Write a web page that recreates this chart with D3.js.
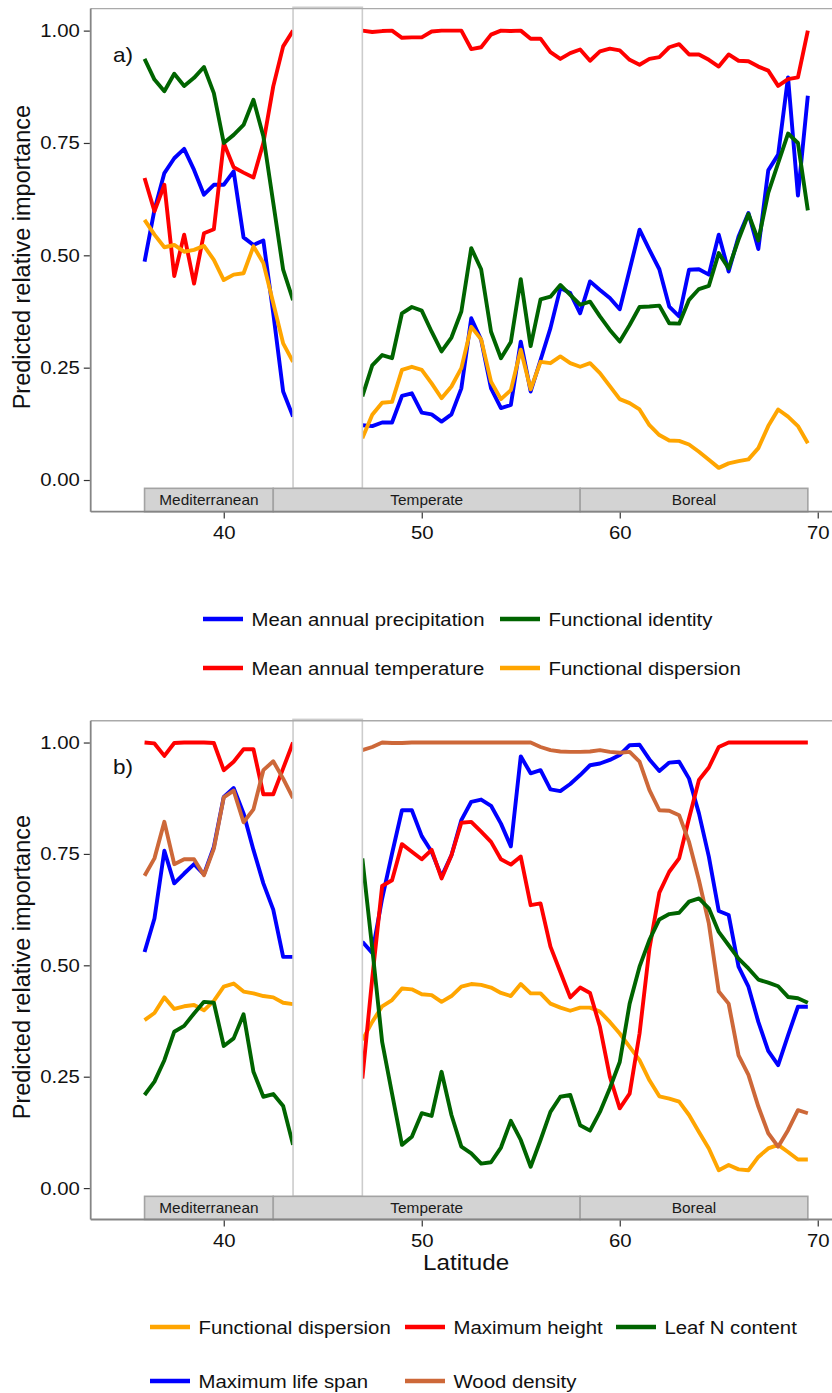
<!DOCTYPE html>
<html>
<head>
<meta charset="utf-8">
<script src="https://cdn.jsdelivr.net/npm/d3@7"></script>
<style>
  html, body { margin: 0; padding: 0; background: #fff; }
  svg { display: block; font-family: "Liberation Sans", Arial, Helvetica, sans-serif; }
</style>
</head>
<body>
<svg id="chart" width="832" height="1393"></svg>
<script>
// Latitude of each prediction (degrees N); null values fall inside the masked band
const latitude = [
  36, 36.5, 37, 37.5, 38, 38.5, 39, 39.5, 40, 40.5, 41, 41.5, 42, 42.5, 43, 43.5,
  44, 44.5, 45, 45.5, 46, 46.5,
  47, 47.5, 48, 48.5, 49, 49.5, 50, 50.5, 51, 51.5, 52, 52.5, 53, 53.5, 54, 54.5,
  55, 55.5, 56, 56.5, 57, 57.5,
  58, 58.5, 59, 59.5, 60, 60.5, 61, 61.5, 62, 62.5, 63, 63.5, 64, 64.5, 65, 65.5,
  66, 66.5, 67, 67.5, 68, 68.5, 69, 69.5
];

// (a) climate vs. functional structure
const meanAnnualPrecipitation = [
  0.486, 0.601, 0.683, 0.716, 0.737, 0.690, 0.635, 0.657, 0.657, 0.687, 0.540, 0.523, 0.533, 0.371, 0.197, 0.141,
  null, null, null, null, null, null,
  0.122, 0.120, 0.128, 0.128, 0.187, 0.193, 0.150, 0.146, 0.130, 0.146, 0.204, 0.360, 0.312, 0.204, 0.160, 0.167,
  0.308, 0.197, 0.267, 0.338, 0.427, 0.416,
  0.371, 0.442, 0.423, 0.405, 0.380, 0.468, 0.557, 0.512, 0.469, 0.386, 0.364, 0.468, 0.469, 0.457, 0.546, 0.464,
  0.542, 0.594, 0.514, 0.689, 0.724, 0.896, 0.633, 0.855
];
const meanAnnualTemperature = [
  0.672, 0.598, 0.657, 0.454, 0.546, 0.437, 0.549, 0.558, 0.750, 0.696, 0.684, 0.673, 0.750, 0.876, 0.965, 1.000,
  null, null, null, null, null, null,
  1.000, 0.997, 0.999, 1.000, 0.984, 0.985, 0.985, 0.998, 1.000, 1.000, 1.000, 0.959, 0.963, 0.991, 1.000, 0.999,
  1.000, 0.982, 0.982, 0.952, 0.937, 0.950,
  0.958, 0.933, 0.954, 0.960, 0.956, 0.935, 0.924, 0.937, 0.941, 0.963, 0.970, 0.947, 0.947, 0.935, 0.920, 0.947,
  0.933, 0.932, 0.920, 0.911, 0.877, 0.892, 0.896, 1.000
];
const functionalIdentity = [
  0.937, 0.891, 0.865, 0.904, 0.877, 0.895, 0.919, 0.861, 0.750, 0.768, 0.790, 0.846, 0.765, 0.617, 0.468, 0.400,
  null, null, null, null, null, null,
  0.186, 0.255, 0.278, 0.271, 0.371, 0.385, 0.377, 0.330, 0.286, 0.317, 0.375, 0.516, 0.469, 0.330, 0.271, 0.307,
  0.447, 0.298, 0.402, 0.408, 0.434, 0.412,
  0.390, 0.397, 0.364, 0.334, 0.308, 0.345, 0.385, 0.386, 0.388, 0.349, 0.348, 0.401, 0.425, 0.432, 0.505, 0.471,
  0.535, 0.592, 0.533, 0.639, 0.705, 0.771, 0.750, 0.600
];
const functionalDispersionA = [
  0.579, 0.546, 0.518, 0.523, 0.508, 0.512, 0.521, 0.490, 0.445, 0.457, 0.460, 0.520, 0.483, 0.394, 0.304, 0.263,
  null, null, null, null, null, null,
  0.093, 0.145, 0.172, 0.174, 0.245, 0.252, 0.245, 0.215, 0.182, 0.208, 0.249, 0.341, 0.313, 0.219, 0.180, 0.200,
  0.290, 0.202, 0.263, 0.260, 0.275, 0.260,
  0.252, 0.260, 0.238, 0.209, 0.180, 0.171, 0.157, 0.122, 0.100, 0.088, 0.087, 0.079, 0.063, 0.045, 0.027, 0.037,
  0.042, 0.046, 0.071, 0.120, 0.157, 0.141, 0.120, 0.082
];

// (b) individual traits
const functionalDispersionB = [
  0.377, 0.393, 0.428, 0.402, 0.408, 0.411, 0.399, 0.420, 0.452, 0.459, 0.441, 0.437, 0.431, 0.428, 0.416, 0.413,
  null, null, null, null, null, null,
  0.332, 0.373, 0.408, 0.422, 0.448, 0.446, 0.435, 0.433, 0.418, 0.431, 0.452, 0.458, 0.456, 0.450, 0.438, 0.431,
  0.458, 0.437, 0.437, 0.414, 0.405, 0.398,
  0.405, 0.405, 0.396, 0.373, 0.347, 0.317, 0.287, 0.242, 0.206, 0.201, 0.194, 0.164, 0.126, 0.089, 0.040, 0.052,
  0.042, 0.040, 0.070, 0.089, 0.097, 0.081, 0.064, 0.064
];
const maximumLifeSpan = [
  0.530, 0.605, 0.757, 0.684, 0.706, 0.727, 0.704, 0.766, 0.878, 0.898, 0.841, 0.759, 0.684, 0.625, 0.519, 0.519,
  null, null, null, null, null, null,
  0.553, 0.528, 0.650, 0.751, 0.848, 0.848, 0.790, 0.755, 0.699, 0.747, 0.826, 0.867, 0.872, 0.858, 0.818, 0.767,
  0.969, 0.931, 0.938, 0.895, 0.891, 0.907,
  0.927, 0.949, 0.953, 0.961, 0.972, 0.994, 0.995, 0.962, 0.936, 0.955, 0.957, 0.919, 0.841, 0.744, 0.622, 0.613,
  0.497, 0.452, 0.373, 0.308, 0.276, 0.343, 0.407, 0.407
];
const maximumHeight = [
  1.000, 0.998, 0.970, 0.999, 1.000, 1.000, 1.000, 0.999, 0.938, 0.957, 0.985, 0.985, 0.884, 0.884, 0.942, 1.000,
  null, null, null, null, null, null,
  0.246, 0.471, 0.678, 0.691, 0.772, 0.755, 0.738, 0.759, 0.695, 0.747, 0.820, 0.822, 0.800, 0.777, 0.738, 0.726,
  0.744, 0.635, 0.639, 0.542, 0.485, 0.428,
  0.450, 0.438, 0.362, 0.250, 0.179, 0.212, 0.347, 0.538, 0.663, 0.710, 0.740, 0.830, 0.916, 0.944, 0.990, 1.000,
  1.000, 1.000, 1.000, 1.000, 1.000, 1.000, 1.000, 1.000
];
const woodDensity = [
  0.701, 0.740, 0.822, 0.727, 0.738, 0.738, 0.702, 0.762, 0.877, 0.892, 0.821, 0.850, 0.938, 0.958, 0.919, 0.875,
  null, null, null, null, null, null,
  0.983, 0.990, 1.000, 0.999, 0.999, 1.000, 1.000, 1.000, 1.000, 1.000, 1.000, 1.000, 1.000, 1.000, 1.000, 1.000,
  1.000, 1.000, 0.990, 0.983, 0.980, 0.979,
  0.979, 0.980, 0.983, 0.979, 0.977, 0.979, 0.957, 0.893, 0.848, 0.847, 0.837, 0.777, 0.691, 0.594, 0.441, 0.414,
  0.298, 0.254, 0.183, 0.123, 0.093, 0.130, 0.175, 0.168
];
const leafNContent = [
  0.209, 0.239, 0.287, 0.351, 0.364, 0.392, 0.418, 0.416, 0.319, 0.336, 0.390, 0.261, 0.205, 0.211, 0.184, 0.097,
  null, null, null, null, null, null,
  0.740, 0.538, 0.328, 0.212, 0.097, 0.115, 0.168, 0.162, 0.261, 0.164, 0.093, 0.078, 0.055, 0.058, 0.091, 0.151,
  0.108, 0.048, 0.108, 0.171, 0.205, 0.209,
  0.141, 0.129, 0.171, 0.224, 0.283, 0.414, 0.497, 0.557, 0.603, 0.615, 0.618, 0.643, 0.650, 0.628, 0.575, 0.545,
  0.515, 0.493, 0.468, 0.461, 0.453, 0.429, 0.426, 0.416
];

// Biome strip along the bottom of each panel
const biomeNames = ["Mediterranean", "Temperate", "Boreal"];
const biomeStart = [36, 42.5, 58];
const biomeEnd = [42.5, 58, 69.5];

// Latitudinal band left without predictions
const maskedBand = [43.5, 47];

const yTickValues = [0, 0.25, 0.5, 0.75, 1];
const xTickValues = [40, 50, 60, 70];

// ---------------------------------------------------------------------------
const svg = d3.select("#chart");
const SX = 1.1;                // horizontal text stretch
const plotLeft = 90.7, plotRight = 841.5;
const yDomain = [-0.0705, 1.049];
const x = d3.scaleLinear().domain([33.28, 71.2]).range([plotLeft, plotRight]);

const axisGrey = "#858585";
const lineWidth = 3.9;

function stretchedText(g, tx, ty, str, size, anchor) {
  return g.append("text")
    .attr("transform", `translate(${tx},${ty}) scale(${SX},1)`)
    .attr("text-anchor", anchor || "start")
    .attr("font-size", size)
    .attr("fill", "#111")
    .text(str);
}

function drawPanel(cfg) {
  const g = svg.append("g");
  const y = d3.scaleLinear().domain(yDomain).range([cfg.bottom, cfg.top]);

  // series lines, in drawing order
  const line = d3.line()
    .defined(d => d.v != null)
    .x(d => x(d.lat))
    .y(d => y(d.v));

  cfg.series.forEach(s => {
    const pts = latitude.map((lat, i) => ({ lat: lat, v: s.values[i] }));
    g.append("path")
      .datum(pts)
      .attr("d", line)
      .attr("fill", "none")
      .attr("stroke", s.color)
      .attr("stroke-width", lineWidth)
      .attr("stroke-linejoin", "round");
  });

  // masked latitudinal band
  g.append("rect")
    .attr("x", x(maskedBand[0]))
    .attr("y", cfg.top - 1.3)
    .attr("width", x(maskedBand[1]) - x(maskedBand[0]))
    .attr("height", y(-0.0185) - (cfg.top - 1.3))
    .attr("fill", "#fff")
    .attr("stroke", "#cccccc")
    .attr("stroke-width", 1.6);

  // biome strip
  biomeNames.forEach((name, i) => {
    const x0 = x(biomeStart[i]), x1 = x(biomeEnd[i]);
    g.append("rect")
      .attr("x", x0).attr("y", y(-0.0185))
      .attr("width", x1 - x0).attr("height", y(-0.0705) - y(-0.0185))
      .attr("fill", "#d3d3d3")
      .attr("stroke", "#a3a3a3")
      .attr("stroke-width", 1.6);
    stretchedText(g, (x0 + x1) / 2, y(-0.0445) + 5, name, 14, "middle").attr("fill", "#1a1a1a");
  });

  // frame lines
  g.append("line").attr("x1", plotLeft).attr("x2", plotRight)
    .attr("y1", cfg.top).attr("y2", cfg.top)
    .attr("stroke", "#aaaaaa").attr("stroke-width", 1.4);
  g.append("line").attr("x1", plotLeft).attr("x2", plotLeft)
    .attr("y1", cfg.top).attr("y2", cfg.bottom)
    .attr("stroke", axisGrey).attr("stroke-width", 1.8);
  g.append("line").attr("x1", plotLeft).attr("x2", plotRight)
    .attr("y1", cfg.bottom).attr("y2", cfg.bottom)
    .attr("stroke", axisGrey).attr("stroke-width", 1.8);

  // y axis
  const ya = g.append("g")
    .attr("transform", `translate(${plotLeft - 0.9},0)`)
    .call(d3.axisLeft(y).tickValues(yTickValues).tickFormat(d3.format(".2f"))
      .tickSize(6).tickPadding(3));
  ya.select(".domain").remove();
  ya.selectAll(".tick line").attr("stroke", "#333").attr("stroke-width", 1.2);
  ya.selectAll(".tick text")
    .attr("font-size", 18.5).attr("fill", "#111")
    .attr("font-family", "Liberation Sans, Arial, sans-serif")
    .attr("transform", `scale(${SX},1)`);

  // x axis
  const xa = g.append("g")
    .attr("transform", `translate(0,${cfg.bottom + 0.9})`)
    .call(d3.axisBottom(x).tickValues(xTickValues).tickSize(6).tickPadding(7));
  xa.select(".domain").remove();
  xa.selectAll(".tick line").attr("stroke", "#333").attr("stroke-width", 1.2);
  xa.selectAll(".tick text")
    .attr("font-size", 18.5).attr("fill", "#111")
    .attr("font-family", "Liberation Sans, Arial, sans-serif")
    .attr("transform", `scale(${SX},1)`);

  // y title
  g.append("text")
    .attr("transform", `translate(30,${(cfg.top + cfg.bottom) / 2 - 3}) rotate(-90)`)
    .attr("text-anchor", "middle")
    .attr("font-size", 23.5)
    .attr("fill", "#111")
    .text("Predicted relative importance");

  // panel tag
  stretchedText(g, 113, cfg.top + 53.5, cfg.tag, 20.5, "start");

  // legend
  cfg.legend.forEach(item => {
    g.append("line")
      .attr("x1", item.x).attr("x2", item.x + 40)
      .attr("y1", item.y).attr("y2", item.y)
      .attr("stroke", item.series.color)
      .attr("stroke-width", 4.4);
    stretchedText(g, item.x + 48.5, item.y + 6.6, item.series.name, 18.5, "start");
  });

  return { g, y };
}

// Panel (a)
const sA = {
  map: { name: "Mean annual precipitation", color: "#0000ff", values: meanAnnualPrecipitation },
  mat: { name: "Mean annual temperature", color: "#ff0000", values: meanAnnualTemperature },
  fi:  { name: "Functional identity", color: "#006400", values: functionalIdentity },
  fd:  { name: "Functional dispersion", color: "#ffa500", values: functionalDispersionA }
};
drawPanel({
  top: 8.6, bottom: 511.7, tag: "a)",
  series: [sA.map, sA.mat, sA.fi, sA.fd],
  legend: [
    { series: sA.map, x: 203, y: 619 },
    { series: sA.fi,  x: 500, y: 619 },
    { series: sA.mat, x: 203, y: 668 },
    { series: sA.fd,  x: 500, y: 668 }
  ]
});

// Panel (b)
const sB = {
  fd: { name: "Functional dispersion", color: "#ffa500", values: functionalDispersionB },
  mls: { name: "Maximum life span", color: "#0000ff", values: maximumLifeSpan },
  mh: { name: "Maximum height", color: "#ff0000", values: maximumHeight },
  wd: { name: "Wood density", color: "#cd6839", values: woodDensity },
  ln: { name: "Leaf N content", color: "#006400", values: leafNContent }
};
drawPanel({
  top: 720.7, bottom: 1219.5, tag: "b)",
  series: [sB.fd, sB.mls, sB.mh, sB.wd, sB.ln],
  legend: [
    { series: sB.fd,  x: 150, y: 1327 },
    { series: sB.mh,  x: 405, y: 1327 },
    { series: sB.ln,  x: 616, y: 1327 },
    { series: sB.mls, x: 150, y: 1381 },
    { series: sB.wd,  x: 405, y: 1381 }
  ]
});

// x title
svg.append("text")
  .attr("transform", `translate(${(plotLeft + plotRight) / 2},1270) scale(${SX},1)`)
  .attr("text-anchor", "middle")
  .attr("font-size", 22)
  .attr("fill", "#111")
  .text("Latitude");
</script>
</body>
</html>
